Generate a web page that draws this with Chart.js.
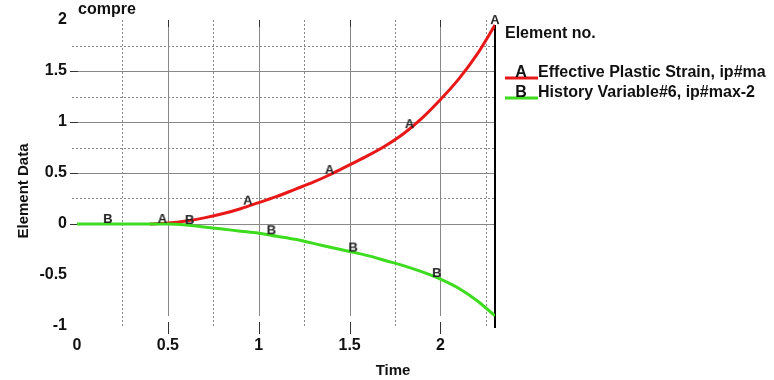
<!DOCTYPE html>
<html>
<head>
<meta charset="utf-8">
<script src="https://cdn.jsdelivr.net/npm/chart.js@4.4.1/dist/chart.umd.min.js"></script>
<style>
  html, body { margin: 0; padding: 0; background: #fff; }
  #wrap { width: 774px; height: 380px; }
</style>
</head>
<body>
<div id="wrap"><canvas id="chart"></canvas></div>
<script>
// curve A: effective plastic strain
const timeA = [0.4, 0.5, 0.6, 0.7, 0.8, 0.9, 1.0, 1.1, 1.2, 1.3, 1.4, 1.5, 1.6, 1.7, 1.8, 1.9, 2.0, 2.1, 2.2, 2.3]
const strainA = [0, 0.01, 0.03, 0.06, 0.10, 0.15, 0.21, 0.27, 0.34, 0.41, 0.49, 0.58, 0.67, 0.77, 0.89, 1.04, 1.22, 1.42, 1.66, 1.95]

// curve B: history variable #6
const timeB = [0, 0.1, 0.2, 0.3, 0.4, 0.5, 0.6, 0.7, 0.8, 0.9, 1.0, 1.1, 1.2, 1.3, 1.4, 1.5, 1.6, 1.7, 1.8, 1.9, 2.0, 2.1, 2.2, 2.3]
const historyB = [0, 0, 0, 0, 0, 0, -0.01, -0.03, -0.05, -0.07, -0.09, -0.12, -0.15, -0.19, -0.23, -0.27, -0.31, -0.36, -0.41, -0.47, -0.54, -0.63, -0.75, -0.90]

// letter markers along each curve
const markTimeA = [0.47, 0.94, 1.39, 1.83, 2.3]
const markValueA = [0, 0.18, 0.48, 0.93, 1.95]
const markTimeB = [0.17, 0.62, 1.07, 1.52, 1.98]
const markValueB = [0, -0.01, -0.11, -0.28, -0.53]

const xTicks = [0, 0.5, 1, 1.5, 2]
const yTicks = [-1, -0.5, 0, 0.5, 1, 1.5, 2]

const seriesLetters = ["A", "B"]
const seriesNames = ["Effective Plastic Strain, ip#ma", "History Variable#6, ip#max-2"]
const seriesColors = ["#e81818", "#3ddc1e"]

const FONT = "'Liberation Sans', Arial, sans-serif"
const INK = "#111"

const toPoints = (xs, ys) => xs.map((x, i) => ({ x, y: ys[i] }))

// letter drawn a little above the centre so it sits on top of the curve
function letterStyle(letter) {
  const c = document.createElement("canvas")
  c.width = 16
  c.height = 26
  const g = c.getContext("2d")
  g.font = "bold 13px " + FONT
  g.fillStyle = "#222"
  g.textAlign = "center"
  g.textBaseline = "middle"
  g.fillText(letter, 8, 8)
  return c
}

const gridLines = {
  id: "gridLines",
  beforeDatasetsDraw(chart) {
    const { ctx, chartArea: a, scales: { x, y } } = chart
    const px = v => Math.round(x.getPixelForValue(v)) + 0.5
    const py = v => Math.round(y.getPixelForValue(v)) + 0.5
    ctx.save()
    ctx.lineWidth = 1

    // horizontal lines only on the positive side
    const yMajor = yTicks.filter(v => v >= 0 && v < 2)
    ctx.strokeStyle = "#888"
    yMajor.forEach(v => {
      ctx.beginPath(); ctx.moveTo(a.left, py(v)); ctx.lineTo(a.right, py(v)); ctx.stroke()
    })
    ctx.strokeStyle = "#333"
    yMajor.forEach(v => {
      ctx.beginPath(); ctx.moveTo(a.left - 7, py(v)); ctx.lineTo(a.left + 1, py(v)); ctx.stroke()
    })
    ctx.setLineDash([2, 2])
    ctx.strokeStyle = "#888"
    yMajor.forEach(v => {
      const m = v + 0.25
      ctx.beginPath(); ctx.moveTo(a.left - 5, py(m)); ctx.lineTo(a.right, py(m)); ctx.stroke()
    })

    // dotted verticals halfway between labelled times
    xTicks.forEach(v => {
      const m = v + 0.25
      ctx.beginPath(); ctx.moveTo(px(m), a.top); ctx.lineTo(px(m), a.bottom + 2); ctx.stroke()
    })
    ctx.setLineDash([])

    // solid verticals with dark tick marks at both ends
    xTicks.filter(v => v > 0).forEach(v => {
      ctx.strokeStyle = "#888"
      ctx.beginPath(); ctx.moveTo(px(v), a.top); ctx.lineTo(px(v), a.bottom - 10); ctx.stroke()
      ctx.strokeStyle = "#333"
      ctx.beginPath(); ctx.moveTo(px(v), a.top); ctx.lineTo(px(v), a.top + 7); ctx.stroke()
      ctx.beginPath(); ctx.moveTo(px(v), a.bottom - 4); ctx.lineTo(px(v), a.bottom + 8); ctx.stroke()
    })

    // right frame
    ctx.strokeStyle = "#000"
    ctx.lineWidth = 2
    ctx.beginPath(); ctx.moveTo(a.right, a.top + 5); ctx.lineTo(a.right, a.bottom + 2); ctx.stroke()
    ctx.restore()
  }
}

const labels = {
  id: "labels",
  afterDraw(chart) {
    const { ctx, chartArea: a } = chart
    ctx.save()
    ctx.fillStyle = INK
    ctx.textBaseline = "alphabetic"
    ctx.font = "bold 16px " + FONT
    ctx.textAlign = "left"
    ctx.fillText("compre", a.left + 1, 14)
    ctx.fillText("Element no.", 505, 38)

    seriesNames.forEach((name, i) => {
      const base = 78 + i * 20
      ctx.strokeStyle = seriesColors[i]
      ctx.lineWidth = 3
      ctx.beginPath(); ctx.moveTo(505, base); ctx.lineTo(538, base); ctx.stroke()
      ctx.textAlign = "center"
      ctx.fillText(seriesLetters[i], 521, base - 1)
      ctx.textAlign = "left"
      ctx.fillText(name, 538, base - 1)
    })

    ctx.font = "bold 15px " + FONT
    ctx.textAlign = "center"
    ctx.fillText("Time", 393, 375)
    ctx.translate(28, 191)
    ctx.rotate(-Math.PI / 2)
    ctx.fillText("Element Data", 0, 0)
    ctx.restore()
  }
}

const tickFont = { family: FONT, size: 16, weight: "bold" }
const plainNumber = value => String(value)

new Chart(document.getElementById("chart"), {
  type: "line",
  data: {
    datasets: [
      {
        data: toPoints(markTimeA, markValueA),
        showLine: false,
        pointStyle: letterStyle("A"),
        pointRadius: 3,
        clip: false
      },
      {
        data: toPoints(markTimeB, markValueB),
        showLine: false,
        pointStyle: letterStyle("B"),
        pointRadius: 3,
        clip: false
      },
      {
        data: toPoints(timeB, historyB),
        borderColor: seriesColors[1],
        borderWidth: 3,
        pointRadius: 0,
        cubicInterpolationMode: "monotone"
      },
      {
        data: toPoints(timeA, strainA),
        borderColor: seriesColors[0],
        borderWidth: 3,
        pointRadius: 0,
        cubicInterpolationMode: "monotone"
      }
    ]
  },
  options: {
    responsive: true,
    maintainAspectRatio: false,
    animation: false,
    devicePixelRatio: 1,
    layout: { padding: { top: 20, right: 279, left: 0, bottom: 0 } },
    scales: {
      x: {
        type: "linear",
        min: 0,
        max: 2.3,
        afterBuildTicks: s => { s.ticks = xTicks.map(value => ({ value })) },
        afterFit: s => { s.height = 54 },
        grid: { display: false, drawTicks: false },
        border: { display: false },
        ticks: { font: tickFont, color: INK, padding: 10, maxRotation: 0, autoSkip: false, callback: plainNumber }
      },
      y: {
        type: "linear",
        min: -1,
        max: 2,
        afterBuildTicks: s => { s.ticks = yTicks.map(value => ({ value })) },
        afterFit: s => { s.width = 77 },
        grid: { display: false, drawTicks: false },
        border: { display: false },
        ticks: { font: tickFont, color: INK, padding: 10, autoSkip: false, callback: plainNumber }
      }
    },
    plugins: {
      legend: { display: false },
      tooltip: { enabled: false }
    }
  },
  plugins: [gridLines, labels]
})
</script>
</body>
</html>
